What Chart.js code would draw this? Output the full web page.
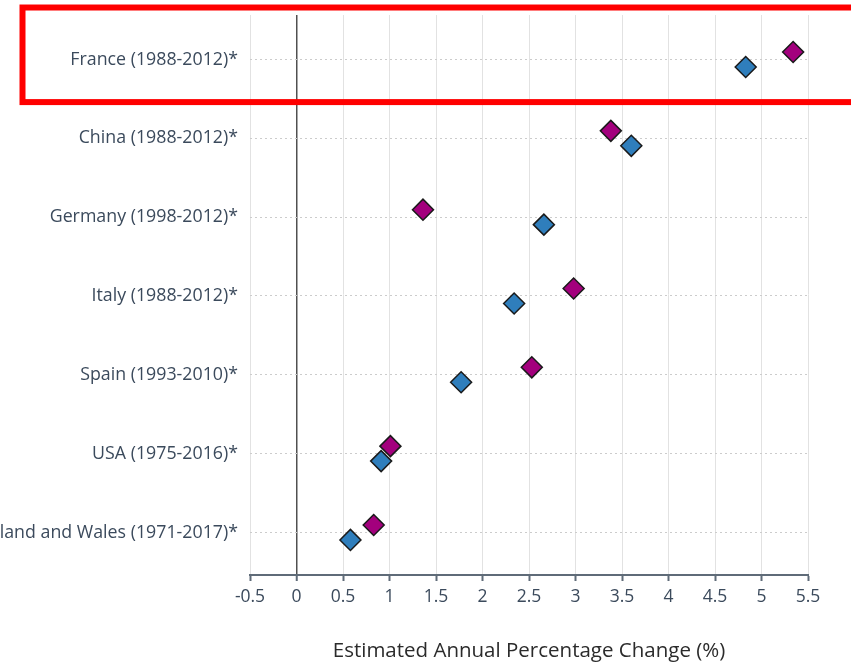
<!DOCTYPE html>
<html>
<head>
<meta charset="utf-8">
<script src="https://cdn.jsdelivr.net/npm/chart.js@4/dist/chart.umd.min.js"></script>
<style>
html,body{margin:0;padding:0;background:#fff;}
#wrap{width:851px;height:663px;position:relative;}
</style>
</head>
<body>
<div id="wrap"><canvas id="c"></canvas></div>
<script>
const categories = [
  'France (1988-2012)*',
  'China (1988-2012)*',
  'Germany (1998-2012)*',
  'Italy (1988-2012)*',
  'Spain (1993-2010)*',
  'USA (1975-2016)*',
  'England and Wales (1971-2017)*'
];
const magentaValues = [5.34, 3.38, 1.36, 2.98, 2.53, 1.01, 0.83];
const blueValues    = [4.83, 3.60, 2.66, 2.34, 1.77, 0.91, 0.58];
const xTickValues = [-0.5, 0, 0.5, 1, 1.5, 2, 2.5, 3, 3.5, 4, 4.5, 5, 5.5];
const xTitle = 'Estimated Annual Percentage Change (%)';

const ROW_SHIFT = 0.095;
const textColor = '#3b4a5c';
const axisColor = '#5f6b78';

Chart.defaults.font.family = "'Open Sans', 'Noto Sans', sans-serif";

const highlight = {
  id: 'highlight',
  afterDraw(chart) {
    const y = chart.scales.y;
    const ctx = chart.ctx;
    const top = y.getPixelForValue(-0.66);
    const bottom = y.getPixelForValue(0.54);
    ctx.save();
    ctx.strokeStyle = '#ff0000';
    ctx.lineWidth = 6;
    ctx.strokeRect(22.5, top, chart.width + 40, bottom - top);
    ctx.restore();
  }
};

new Chart(document.getElementById('c'), {
  type: 'scatter',
  data: {
    datasets: [
      {
        label: 'Series 1',
        data: blueValues.map((v, i) => ({x: v, y: i + ROW_SHIFT})),
        backgroundColor: '#2f7ebc',
        borderColor: '#1a1a1a',
        borderWidth: 1.5,
        pointStyle: 'rectRot',
        pointRadius: 10.5,
        pointHoverRadius: 10.5
      },
      {
        label: 'Series 2',
        data: magentaValues.map((v, i) => ({x: v, y: i - ROW_SHIFT})),
        backgroundColor: '#a3007d',
        borderColor: '#1a1a1a',
        borderWidth: 1.5,
        pointStyle: 'rectRot',
        pointRadius: 10.5,
        pointHoverRadius: 10.5
      }
    ]
  },
  options: {
    responsive: true,
    maintainAspectRatio: false,
    animation: false,
    events: [],
    layout: {padding: {left: 0, right: 43, top: 15, bottom: 0}},
    plugins: {legend: {display: false}, tooltip: {enabled: false}},
    scales: {
      x: {
        type: 'linear',
        position: 'bottom',
        min: -0.5,
        max: 5.5,
        afterBuildTicks(scale) { scale.ticks = xTickValues.map(v => ({value: v})); },
        afterFit(scale) { scale.height = 88; },
        ticks: {
          color: textColor,
          font: {size: 17.5},
          padding: 6,
          autoSkip: false,
          maxRotation: 0,
          callback: v => String(v)
        },
        grid: {
          color: ctx => (ctx.tick && ctx.tick.value === 0) ? '#505050' : '#e2e2e2',
          lineWidth: ctx => (ctx.tick && ctx.tick.value === 0) ? 1.5 : 1,
          drawTicks: true,
          tickLength: 6,
          tickColor: axisColor,
          tickWidth: 2
        },
        border: {display: true, color: axisColor, width: 2},
        title: {
          display: true,
          text: xTitle,
          color: '#2b2b2b',
          font: {size: 20.5},
          padding: {top: 0, bottom: 0}
        }
      },
      y: {
        type: 'linear',
        reverse: true,
        min: -0.565,
        max: 6.54,
        afterBuildTicks(scale) { scale.ticks = categories.map((c, i) => ({value: i})); },
        afterFit(scale) {
          scale.width = 250;
          scale.paddingTop = 0;
          scale.paddingBottom = 0;
        },
        ticks: {
          color: textColor,
          font: {size: 17.8},
          padding: 12,
          autoSkip: false,
          callback: v => categories[v]
        },
        grid: {
          color: '#cccccc',
          lineWidth: 1,
          drawTicks: false
        },
        border: {display: false, dash: [2, 3]}
      }
    }
  },
  plugins: [highlight]
});
</script>
</body>
</html>
